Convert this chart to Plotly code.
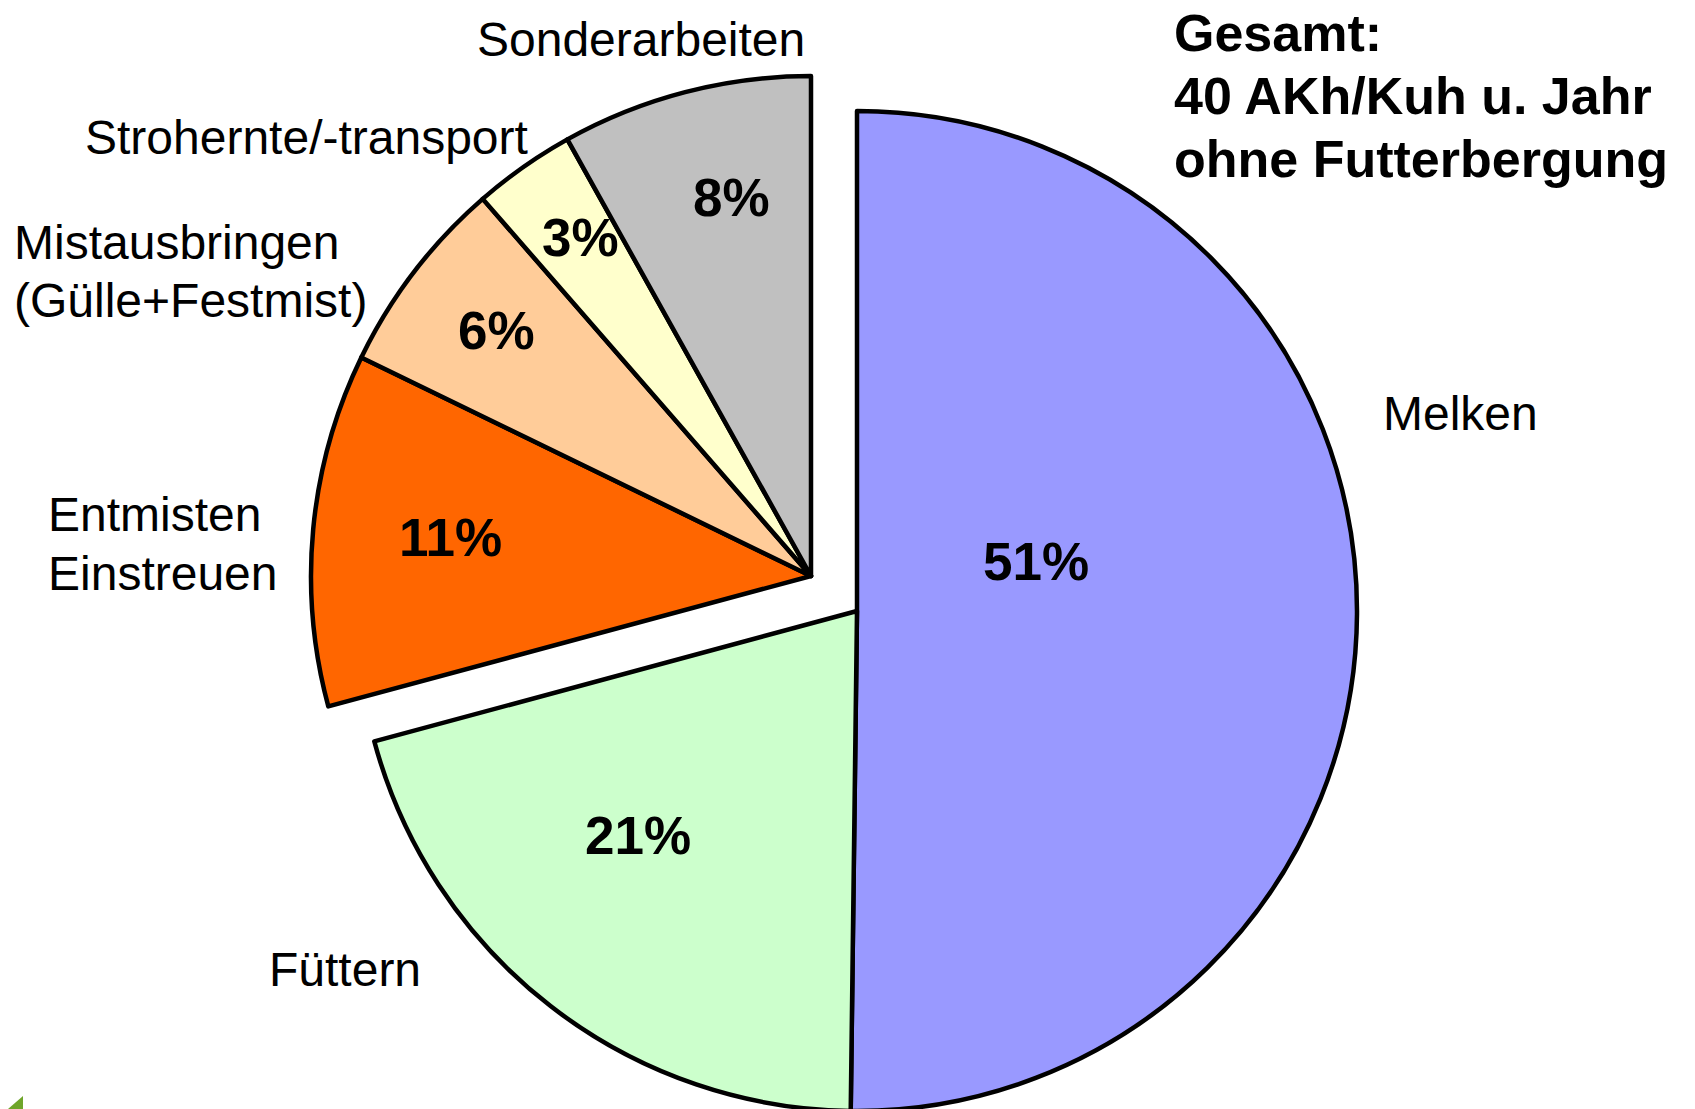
import plotly.graph_objects as go

# ---- data ----
categories = ["Melken", "Füttern", "Entmisten<br>Einstreuen",
              "Mistausbringen<br>(Gülle+Festmist)", "Strohernte/-transport", "Sonderarbeiten"]
shares = [50.2, 20.6, 11.4, 6.4, 3.3, 8.1]          # slice sizes as drawn
pct_labels = ["51%", "21%", "11%", "6%", "3%", "8%"]  # printed labels
colors = ["#9999FF", "#CCFFCC", "#FF6600", "#FFCC99", "#FFFFCC", "#C0C0C0"]
group_main = [True, True, False, False, False, False]
title_lines = ["Gesamt:", "40 AKh/Kuh u. Jahr", "ohne Futterbergung"]

# ---- layout helpers ----
W, H = 1695, 1109
OFF = 8  # page body margin of the html page
FONT = "Liberation Sans, Arial, Helvetica, sans-serif"


def px(x):
    return (x - OFF) / W


def py(y):
    return 1 - (y - OFF) / H


R = 500


def dom(cx, cy):
    return dict(x=[max(0.0, px(cx - R)), min(1.0, px(cx + R))],
                y=[max(0.0, py(cy + R)), min(1.0, py(cy - R))])


fig = go.Figure()
for centre, sel in [((857, 611), True), ((811, 576), False)]:
    mask = [g == sel for g in group_main]
    fig.add_trace(go.Pie(
        labels=[c.replace("<br>", " ") for c in categories],
        values=shares,
        sort=False,
        direction="clockwise",
        rotation=0,
        domain=dom(*centre),
        textinfo="none",
        hoverinfo="label+percent",
        marker=dict(
            colors=[c if m else "rgba(0,0,0,0)" for c, m in zip(colors, mask)],
            line=dict(color=["black" if m else "rgba(0,0,0,0)" for m in mask],
                      width=[4.5 if m else 0 for m in mask]),
        ),
        showlegend=False,
    ))

annotations = []

# percentage labels (centres, page px)
pct_pos = [(1036, 562), (638, 835), (450, 537), (496, 330), (580, 238), (731, 197)]
for t, (x, y) in zip(pct_labels, pct_pos):
    annotations.append(dict(text=t, x=px(x), y=py(y), xref="paper", yref="paper",
                            xanchor="center", yanchor="middle", showarrow=False,
                            font=dict(family=FONT, size=53, color="black", weight="bold")))

# category labels (left edge, vertical centre of first line, page px)
cat_pos = [(1381, 413), (267, 969), (46, 515), (12, 243), (83, 138), (475, 40)]
LINE_GAP = 58
for t, (x, y) in zip(categories, cat_pos):
    for k, line in enumerate(t.split("<br>")):
        annotations.append(dict(text=line, x=px(x), y=py(y + k * LINE_GAP),
                                xref="paper", yref="paper",
                                xanchor="left", yanchor="middle", align="left",
                                showarrow=False,
                                font=dict(family=FONT, size=48, color="black")))

# title block
for k, line in enumerate(title_lines):
    annotations.append(dict(text=line, x=px(1172), y=py(33 + k * 63),
                            xref="paper", yref="paper", xanchor="left", yanchor="middle",
                            align="left", showarrow=False,
                            font=dict(family=FONT, size=52, color="black", weight="bold")))

fig.update_layout(
    width=W, height=H,
    margin=dict(l=0, r=0, t=0, b=0),
    paper_bgcolor="white",
    plot_bgcolor="white",
    annotations=annotations,
    shapes=[dict(type="path", xref="paper", yref="paper",
                 path=f"M {px(8)} {py(1109)} L {px(23)} {py(1096)} L {px(23)} {py(1109)} Z",
                 fillcolor="#6FA52A", line=dict(width=0))],
)

fig.write_html("out.html")
